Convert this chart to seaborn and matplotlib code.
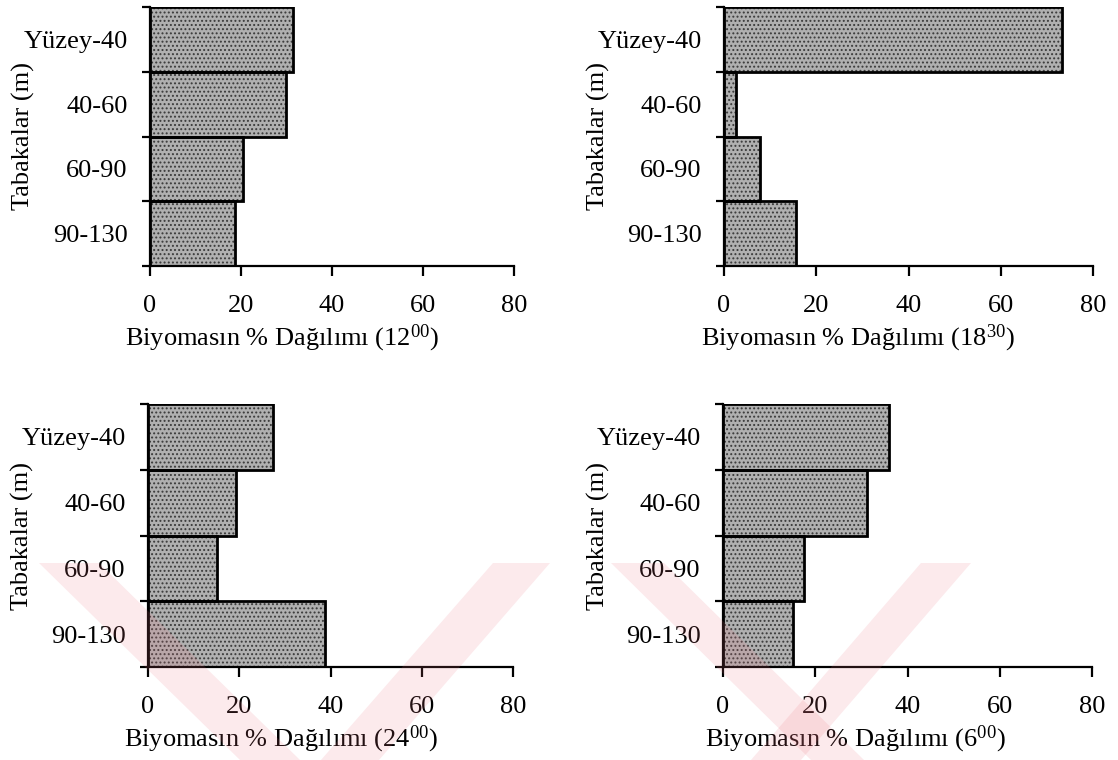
import matplotlib
matplotlib.use("Agg")
import matplotlib.pyplot as plt
import seaborn as sns
import pandas as pd
from matplotlib.patches import Polygon

# ---- data ----
layers = ["Yüzey-40", "40-60", "60-90", "90-130"]
pct_1200 = [31.4, 29.9, 20.4, 18.7]
pct_1830 = [73.3, 2.5, 7.7, 15.7]
pct_2400 = [27.5, 19.3, 15.1, 38.7]
pct_0600 = [35.9, 31.3, 17.6, 15.2]
x_ticks = [0, 20, 40, 60, 80]
titles = ["12", "18", "24", "6"]
sups = ["00", "30", "00", "00"]
y_title = "Tabakalar (m)"

sns.set_theme(style="ticks")
plt.rcParams["font.family"] = ["Liberation Serif", "DejaVu Serif"]
plt.rcParams["mathtext.fontset"] = "custom"
plt.rcParams["mathtext.rm"] = "Liberation Serif"
plt.rcParams["mathtext.it"] = "Liberation Serif:italic"
plt.rcParams["mathtext.bf"] = "Liberation Serif:bold"
plt.rcParams["mathtext.default"] = "rm"
plt.rcParams["hatch.linewidth"] = 0.9

fig = plt.figure(figsize=(11.18, 7.6), dpi=100)
W, H = 1118, 760

boxes = [
    (150, 7, 514, 266),
    (724, 7, 1093, 266),
    (148, 404, 513, 667),
    (723, 404, 1092, 667),
]
ylab_x = [-0.316, -0.309, -0.312, -0.306]
xlab_x = [0.363, 0.362, 0.364, 0.360]
series = [pct_1200, pct_1830, pct_2400, pct_0600]

for i, (vals, (l, t, r, b)) in enumerate(zip(series, boxes)):
    ax = fig.add_axes([l / W, 1 - b / H, (r - l) / W, (b - t) / H])
    df = pd.DataFrame({"layer": layers, "pct": vals})
    # stippled fill
    sns.barplot(data=df, x="pct", y="layer", orient="h", width=1.0,
                color="#b0b0b0", saturation=1, edgecolor="#3a3a3a",
                linewidth=0, hatch="....", ax=ax)
    # black outline
    sns.barplot(data=df, x="pct", y="layer", orient="h", width=1.0,
                fill=False, edgecolor="black", linewidth=2.0, ax=ax)
    for p in ax.patches:
        p.set_zorder(2)
    ax.set_xlim(0, 80)
    ax.set_ylim(len(layers) - 0.5, -0.5)
    ax.set_xticks(x_ticks)
    ax.set_xticklabels([str(v) for v in x_ticks])
    ax.set_yticks(range(len(layers)))
    ax.set_yticklabels(layers)
    ax.set_yticks([k - 0.5 for k in range(len(layers) + 1)], minor=True)
    ax.tick_params(axis="y", which="major", length=0, pad=16, labelsize=19, colors="black")
    ax.tick_params(axis="y", which="minor", length=6, width=1.6, direction="out", color="black")
    ax.tick_params(axis="x", which="major", length=7, width=1.6, direction="out",
                   pad=14, labelsize=19, colors="black")
    sns.despine(ax=ax)
    for s in ["left", "bottom"]:
        ax.spines[s].set_linewidth(1.6)
        ax.spines[s].set_color("black")
    ax.set_xlabel("Biyomasın % Dağılımı (" + titles[i] + "$^{" + sups[i] + "}$)",
                  fontsize=19, labelpad=4, color="black", x=xlab_x[i])
    ax.set_ylabel(y_title, fontsize=19, color="black")
    ax.yaxis.set_label_coords(ylab_x[i], 0.5)

# faint thesis watermark (pale pink diagonal bands)
bands = [
    [(39, 563), (99, 563), (300, 760), (240, 760)],
    [(493, 563), (550, 563), (379, 760), (321, 760)],
    [(611, 563), (664, 563), (864, 760), (811, 760)],
    [(921, 563), (971, 563), (801, 760), (751, 760)],
]
for poly in bands:
    pts = [(x / W, 1 - y / H) for x, y in poly]
    fig.patches.append(Polygon(pts, closed=True, transform=fig.transFigure,
                               facecolor=(0.93, 0.45, 0.5), alpha=0.15,
                               edgecolor="none", zorder=10))

fig.savefig("out.png", dpi=100)
